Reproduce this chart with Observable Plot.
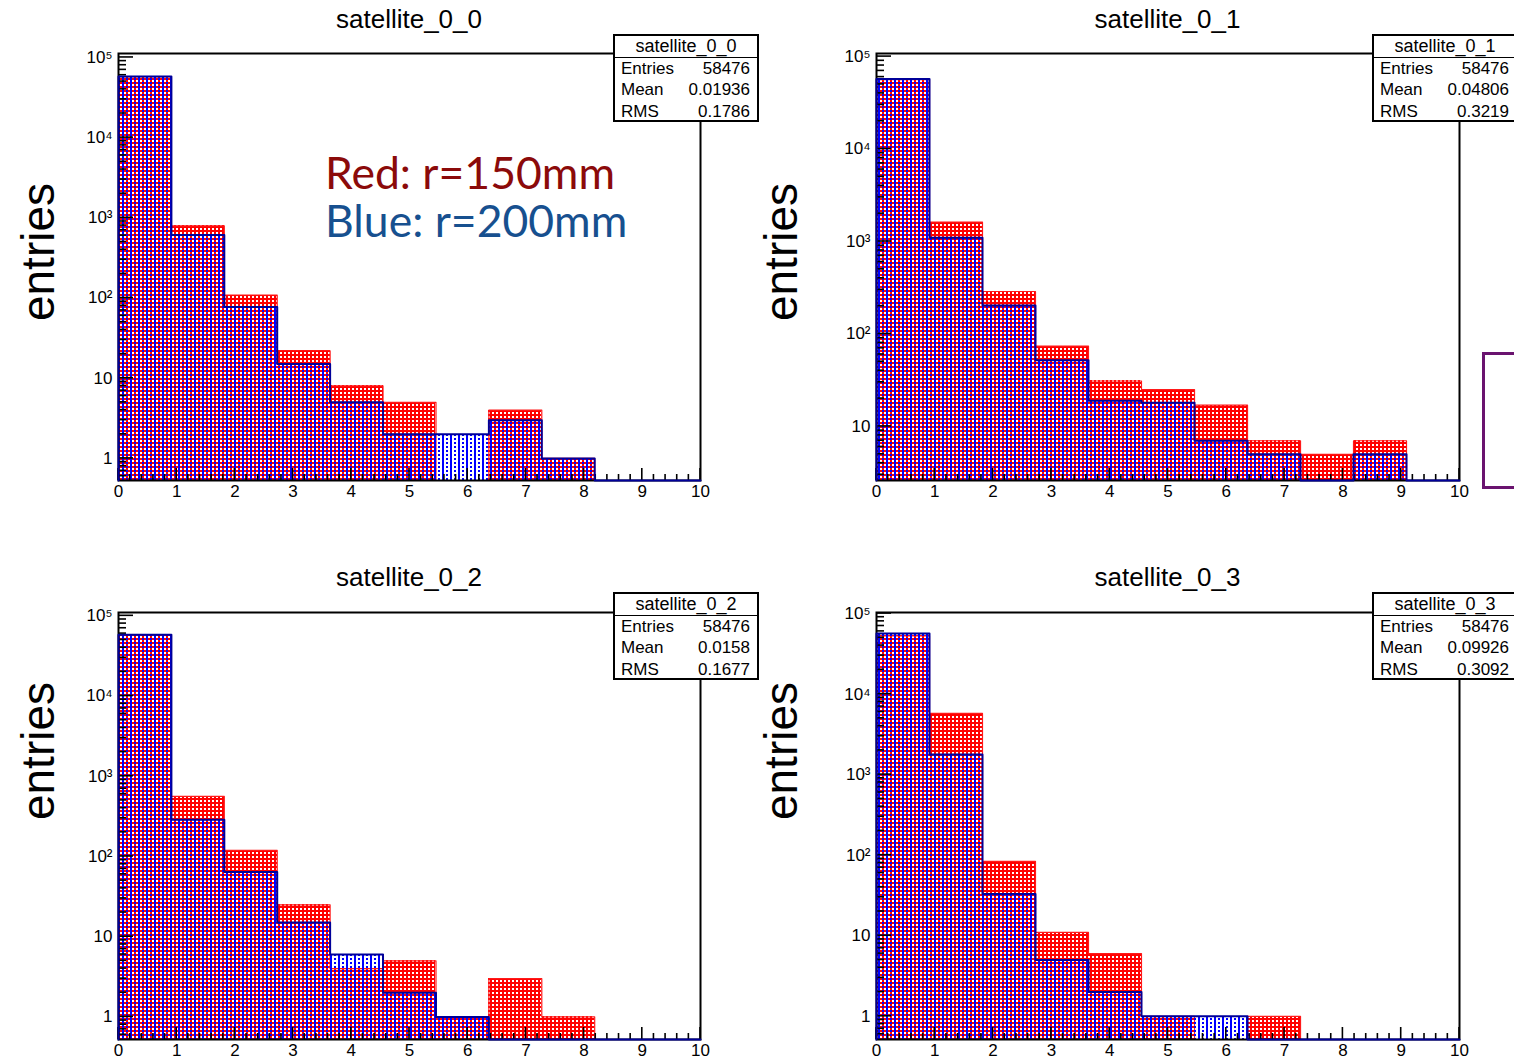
<!DOCTYPE html>
<html>
<head>
<meta charset="utf-8">
<script src="https://cdn.jsdelivr.net/npm/d3@7"></script>
<script src="https://cdn.jsdelivr.net/npm/@observablehq/plot@0.6"></script>
<style>
  html, body { margin: 0; padding: 0; background: #fff; }
  #root { position: relative; width: 1514px; height: 1062px; overflow: hidden; font-family: "Liberation Sans", Arial, sans-serif; color: #000; }
  .panel { position: absolute; }
  .title { position: absolute; width: 400px; text-align: center; font-size: 26px; line-height: 30px; white-space: nowrap; }
  .ylab { position: absolute; width: 240px; height: 60px; line-height: 60px; text-align: center; font-size: 46px; transform: rotate(-90deg); white-space: nowrap; }
  .stats { position: absolute; width: 146px; height: 88px; box-sizing: border-box; border: 2px solid #000; background: #fff; font-size: 17px; }
  .stats .sh { height: 21px; line-height: 21px; text-align: center; border-bottom: 1.5px solid #000; font-size: 18px; }
  .stats .sr { display: flex; justify-content: space-between; padding: 0 7px 0 6px; height: 21.3px; line-height: 21.3px; }
  .legend { position: absolute; font-family: Lato, "Open Sans", sans-serif; font-size: 44.5px; line-height: 48px; white-space: nowrap; }
  .purple { position: absolute; border: 3px solid #6a136f; box-sizing: border-box; }
  pattern rect { shape-rendering: crispEdges; }
</style>
</head>
<body>
<div id="root"></div>
<script>
// ---------------- data ----------------
const binEdges = [0, 0.909, 1.818, 2.727, 3.636, 4.545, 5.455, 6.364, 7.273, 8.182, 9.091, 10];
const titles = ["satellite_0_0", "satellite_0_1", "satellite_0_2", "satellite_0_3"];

const red_0_0  = [57533, 794, 109, 22, 8, 5, 0, 4, 1, 0, 0];
const blue_0_0 = [57761, 610, 77, 15, 5, 2, 2, 3, 1, 0, 0];
const red_0_1  = [56402, 1620, 288, 74, 31, 25, 17, 7, 5, 7, 0];
const blue_0_1 = [57067, 1100, 203, 52, 19, 18, 7, 5, 0, 5, 0];
const red_0_2  = [57758, 560, 119, 25, 4, 5, 1, 3, 1, 0, 0];
const blue_0_2 = [58101, 287, 64, 15, 6, 2, 1, 0, 0, 0, 0];
const red_0_3  = [52623, 5750, 84, 11, 6, 1, 0, 1, 0, 0, 0];
const blue_0_3 = [56654, 1780, 33, 5, 2, 1, 1, 0, 0, 0, 0];

const statEntries = ["58476", "58476", "58476", "58476"];
const statMean = ["0.01936", "0.04806", "0.0158", "0.09926"];
const statRMS = ["0.1786", "0.3219", "0.1677", "0.3092"];

const yDomains = [[0.53, 1.12e5], [2.6, 1.08e5], [0.523, 1.1e5], [0.515, 1.03e5]];
const xTickLabels = [0, 1, 2, 3, 4, 5, 6, 7, 8, 9, 10];
const legendLines = ["Red: r=150mm", "Blue: r=200mm"];

// ---------------- layout ----------------
const panels = [
  {red: red_0_0, blue: blue_0_0, left: 0,   top: 0,   mL: 118, mR: 57, mT: 53, mB: 50},
  {red: red_0_1, blue: blue_0_1, left: 756, top: 0,   mL: 120, mR: 54, mT: 53, mB: 50},
  {red: red_0_2, blue: blue_0_2, left: 0,   top: 532, mL: 118, mR: 57, mT: 80, mB: 23},
  {red: red_0_3, blue: blue_0_3, left: 756, top: 532, mL: 120, mR: 54, mT: 80, mB: 23}
];

const root = document.getElementById("root");
const sup = {"0":"⁰","1":"¹","2":"²","3":"³","4":"⁴","5":"⁵","6":"⁶","7":"⁷","8":"⁸","9":"⁹"};
const fmtLog = d => {
  const e = Math.round(Math.log10(d));
  if (e === 0) return "1";
  if (e === 1) return "10";
  return "10" + String(e).split("").map(c => sup[c]).join("");
};

const rowsOf = vals => vals.map((v, i) => ({x1: binEdges[i], x2: binEdges[i + 1], v}));
const outlineOf = (vals) => {
  const pts = [{x: binEdges[0], y: 0}];
  vals.forEach((v, i) => pts.push({x: binEdges[i], y: v}));
  pts.push({x: binEdges[binEdges.length - 1], y: vals[vals.length - 1]});
  pts.push({x: binEdges[binEdges.length - 1], y: 0});
  return pts;
};

function decorations(k) {
  return () => {
    const g = d3.create("svg:g");
    const defs = g.append("defs");
    const rp = defs.append("pattern").attr("id", "rp" + k).attr("patternUnits", "userSpaceOnUse").attr("width", 4).attr("height", 4);
    rp.append("rect").attr("width", 4).attr("height", 4).attr("fill", "#ff0000");
    rp.append("rect").attr("x", 0).attr("y", 0).attr("width", 2).attr("height", 2).attr("fill", "#ffffff");
    const bp = defs.append("pattern").attr("id", "bp" + k).attr("patternUnits", "userSpaceOnUse").attr("width", 8).attr("height", 4);
    bp.append("rect").attr("x", 2).attr("y", 2).attr("width", 2).attr("height", 2).attr("fill", "#0000ff");
    bp.append("rect").attr("x", 6).attr("y", 2).attr("width", 2).attr("height", 2).attr("fill", "#0000ff");
    bp.append("rect").attr("x", 2).attr("y", 0).attr("width", 2).attr("height", 2).attr("fill", "#0000ff");
    return g.node();
  };
}

function ticks(yDom) {
  return (index, scales, values, dims) => {
    const g = d3.create("svg:g").attr("stroke", "#000").attr("stroke-width", 1.6);
    const bottom = dims.height - dims.marginBottom;
    const left = dims.marginLeft;
    const xt = d3.range(0, 10.0001, 0.2);
    xt.forEach(t => {
      const major = Math.abs(t - Math.round(t)) < 1e-6;
      const X = scales.x(t);
      g.append("line").attr("x1", X).attr("x2", X).attr("y1", bottom).attr("y2", bottom - (major ? 12 : 6));
    });
    const yt = d3.scaleLog().domain(yDom).ticks();
    yt.forEach(t => {
      const e = Math.log10(t);
      const major = Math.abs(e - Math.round(e)) < 1e-9;
      const Y = scales.y(t);
      g.append("line").attr("x1", left).attr("x2", left + (major ? 15 : 8)).attr("y1", Y).attr("y2", Y);
    });
    return g.node();
  };
}

panels.forEach((p, k) => {
  const yDom = yDomains[k];
  const ymin = yDom[0];
  const redRows = rowsOf(p.red).filter(d => d.v > 0);
  const blueRows = rowsOf(p.blue).filter(d => d.v > 0);
  const yDecades = d3.scaleLog().domain(yDom).ticks().filter(t => Math.abs(Math.log10(t) - Math.round(Math.log10(t))) < 1e-9);

  const svg = Plot.plot({
    width: 757,
    height: 530,
    marginLeft: p.mL, marginRight: p.mR, marginTop: p.mT, marginBottom: p.mB,
    style: {fontFamily: "'Liberation Sans', Arial, sans-serif", fontSize: "17px", background: "transparent", overflow: "visible", color: "#000"},
    x: {domain: [0, 10]},
    y: {type: "log", domain: yDom},
    marks: [
      decorations(k),
      Plot.rectY(redRows, {x1: "x1", x2: "x2", y1: ymin, y2: "v", fill: "url(#rp" + k + ")", shapeRendering: "crispEdges"}),
      Plot.line(outlineOf(p.red), {x: "x", y: d => Math.max(d.y, ymin), curve: "step-after", stroke: "#ff1a1a", strokeWidth: 1.2}),
      Plot.rectY(blueRows, {x1: "x1", x2: "x2", y1: ymin, y2: "v", fill: "url(#bp" + k + ")", shapeRendering: "crispEdges"}),
      Plot.frame({stroke: "#000", strokeWidth: 2}),
      ticks(yDom),
      Plot.line(outlineOf(p.blue), {x: "x", y: d => Math.max(d.y, ymin), curve: "step-after", stroke: "#000099", strokeWidth: 2}),
      Plot.axisX({ticks: xTickLabels, tickSize: 0, tickPadding: 4, label: null, fontSize: 17, tickFormat: d => String(d)}),
      Plot.axisY({ticks: yDecades, tickSize: 0, tickPadding: 6, label: null, fontSize: 17, tickFormat: fmtLog})
    ]
  });
  svg.classList.add("panel");
  svg.style.left = p.left + "px";
  svg.style.top = p.top + "px";
  root.appendChild(svg);

  // title
  const frameCenter = p.left + p.mL + (757 - p.mL - p.mR) / 2;
  const t = document.createElement("div");
  t.className = "title";
  t.textContent = titles[k];
  t.style.left = (frameCenter - 200) + "px";
  t.style.top = (k < 2 ? 4 : 562) + "px";
  root.appendChild(t);

  // y label
  const yl = document.createElement("div");
  yl.className = "ylab";
  yl.textContent = "entries";
  const cx = (k % 2 === 0) ? 38 : 781;
  const cy = k < 2 ? 252 : 751;
  yl.style.left = (cx - 120) + "px";
  yl.style.top = (cy - 30) + "px";
  root.appendChild(yl);

  // stats box
  const sb = document.createElement("div");
  sb.className = "stats";
  sb.style.left = (k % 2 === 0 ? 613 : 1372) + "px";
  sb.style.top = (k < 2 ? 34 : 592) + "px";
  const rowsHtml = [["Entries", statEntries[k]], ["Mean", statMean[k]], ["RMS", statRMS[k]]]
    .map(([a, b]) => `<div class="sr"><span>${a}</span><span>${b}</span></div>`).join("");
  sb.innerHTML = `<div class="sh">${titles[k]}</div>` + rowsHtml;
  root.appendChild(sb);
});

// legend annotation
const legColors = ["#8b0a0a", "#17508f"];
legendLines.forEach((s, i) => {
  const d = document.createElement("div");
  d.className = "legend";
  d.textContent = s;
  d.style.color = legColors[i];
  d.style.left = "325px";
  d.style.top = (148 + i * 48) + "px";
  root.appendChild(d);
});

// purple frame at right edge
const pr = document.createElement("div");
pr.className = "purple";
pr.style.left = "1482px";
pr.style.top = "352px";
pr.style.width = "60px";
pr.style.height = "137px";
root.appendChild(pr);
</script>
</body>
</html>
